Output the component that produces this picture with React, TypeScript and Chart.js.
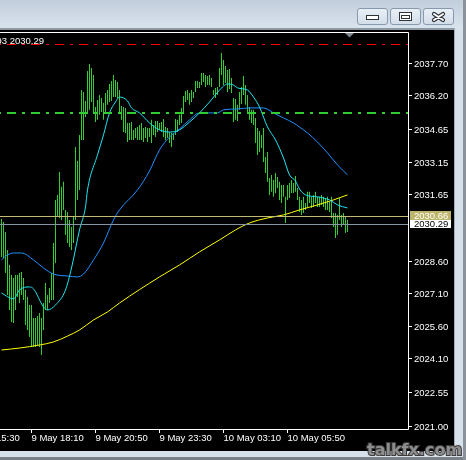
import React, { useEffect, useRef } from "react";
import { Chart, registerables } from "chart.js";

Chart.register(...registerables);

// XAUUSD M5 bars, oldest first: high / low per bar
const barHighs = [
  2030.51, 2030.38, 2029.92, 2029.09, 2028.4, 2027.94, 2027.8, 2027.94, 2027.94, 2028.03,
  2028.08, 2027.8, 2027.25, 2026.93, 2026.56, 2026.56, 2025.96, 2025.96, 2026.05, 2026.19,
  2025.96, 2026.65, 2027.57, 2027.02, 2027.34, 2028.03, 2029.41, 2031.39, 2031.62, 2032.67,
  2031.99, 2032.22, 2030.93, 2030.84, 2030.47, 2030.15, 2030.61, 2033.82, 2033.18, 2034.38,
  2036.44, 2036.35, 2035.94, 2037.32, 2037.64, 2037.46, 2037.13, 2035.66, 2035.98, 2036.21,
  2036.08, 2035.85, 2036.31, 2036.44, 2036.72, 2036.86, 2037.13, 2036.9, 2036.81, 2036.44,
  2035.71, 2035.66, 2035.62, 2034.93, 2034.93, 2034.97, 2034.61, 2034.7, 2034.74, 2034.84,
  2034.93, 2034.7, 2034.74, 2034.7, 2034.7, 2035.07, 2034.84, 2035.02, 2035.02, 2034.93,
  2034.97, 2035.11, 2034.74, 2034.7, 2034.51, 2034.47, 2034.47, 2035.11, 2035.07, 2035.3,
  2035.62, 2036.17, 2036.4, 2036.44, 2036.31, 2036.44, 2036.35, 2036.86, 2036.86, 2036.81,
  2037.23, 2037.23, 2037.13, 2037.09, 2037.13, 2037.0, 2036.44, 2036.54, 2036.58, 2037.46,
  2038.15, 2037.82, 2037.55, 2037.36, 2037.41, 2037.0, 2036.08, 2036.03, 2035.76, 2036.35,
  2036.58, 2037.09, 2036.67, 2036.21, 2035.66, 2035.53, 2035.53, 2035.16, 2034.7, 2034.56,
  2034.38, 2034.7, 2033.36, 2033.59, 2032.4, 2032.54, 2032.31, 2032.63, 2032.44, 2032.22,
  2032.08, 2032.08, 2031.53, 2032.08, 2032.17, 2032.31, 2032.17, 2032.49, 2031.94, 2031.53,
  2031.39, 2031.53, 2031.25, 2031.76, 2031.76, 2031.53, 2031.62, 2031.76, 2031.53, 2031.53,
  2031.62, 2031.53, 2031.48, 2031.53, 2031.3, 2031.53, 2030.79, 2030.79, 2030.7, 2031.48,
  2030.7, 2030.79, 2030.61, 2030.47,
];
const barLows = [
  2028.77, 2028.72, 2028.03, 2027.02, 2026.33, 2025.78, 2025.73, 2026.33, 2026.93, 2026.65,
  2027.02, 2026.79, 2025.64, 2025.41, 2025.09, 2024.63, 2024.63, 2024.63, 2024.72, 2024.63,
  2024.26, 2025.41, 2026.33, 2026.33, 2026.65, 2026.79, 2026.79, 2028.49, 2030.61, 2030.56,
  2030.47, 2030.93, 2029.78, 2029.41, 2029.23, 2029.09, 2029.41, 2030.47, 2031.39, 2031.85,
  2034.15, 2034.15, 2035.2, 2035.39, 2035.53, 2035.89, 2035.34, 2034.97, 2035.07, 2035.3,
  2035.43, 2035.07, 2035.39, 2035.76, 2035.89, 2035.94, 2036.12, 2036.12, 2036.08, 2035.43,
  2035.07, 2034.51, 2034.47, 2034.05, 2034.15, 2034.15, 2034.15, 2034.24, 2034.15, 2034.15,
  2034.15, 2034.05, 2034.24, 2034.05, 2034.28, 2034.01, 2034.38, 2034.28, 2034.51, 2034.61,
  2034.51, 2034.28, 2034.15, 2034.24, 2034.01, 2033.82, 2034.15, 2034.38, 2034.51, 2034.84,
  2034.93, 2035.43, 2035.89, 2035.98, 2035.76, 2035.89, 2036.08, 2036.35, 2036.54, 2036.54,
  2036.67, 2036.81, 2036.58, 2036.67, 2036.67, 2036.58, 2036.21, 2036.08, 2036.21, 2036.58,
  2037.13, 2036.67, 2036.77, 2036.35, 2036.49, 2036.31, 2034.97, 2035.07, 2035.02, 2035.53,
  2035.8, 2036.21, 2035.76, 2035.43, 2035.07, 2034.93, 2034.84, 2034.01, 2033.46, 2033.59,
  2033.78, 2033.13, 2032.63, 2032.22, 2031.62, 2031.76, 2031.53, 2031.71, 2031.94, 2031.39,
  2031.25, 2031.53, 2030.33, 2031.39, 2031.48, 2031.71, 2031.71, 2031.76, 2031.39, 2030.84,
  2030.7, 2030.79, 2030.93, 2031.07, 2031.25, 2031.02, 2031.07, 2031.25, 2031.07, 2031.07,
  2031.16, 2031.07, 2030.93, 2030.93, 2030.84, 2030.56, 2030.15, 2029.64, 2029.78, 2030.47,
  2030.15, 2030.24, 2029.87, 2029.92,
];

// Moving averages (bar index -> price)
const fastMaIdx = [0, 6, 9, 14, 16, 21, 23, 27, 32, 35, 39, 42, 43, 48, 51, 54, 57, 59, 63, 65, 69, 74, 79, 84, 89, 94, 99, 104, 109, 113, 116, 118, 123, 126, 129, 133, 137, 141, 144, 147, 149, 152, 158, 164, 168, 173];
const fastMaVal = [2027.11, 2026.84, 2027.25, 2027.39, 2027.3, 2026.47, 2026.33, 2026.56, 2027.25, 2028.26, 2030.01, 2031.07, 2031.85, 2033.46, 2034.38, 2035.39, 2035.89, 2036.12, 2035.94, 2035.62, 2035.39, 2034.93, 2034.61, 2034.51, 2034.61, 2034.97, 2035.39, 2035.89, 2036.44, 2036.72, 2036.67, 2036.54, 2036.44, 2036.12, 2035.66, 2034.74, 2034.15, 2033.32, 2032.54, 2032.26, 2031.89, 2031.62, 2031.53, 2031.39, 2031.16, 2031.02];
const midMaIdx = [0, 3, 6, 10, 16, 21, 26, 33, 38, 41, 46, 51, 56, 59, 68, 74, 79, 84, 89, 94, 99, 108, 111, 118, 124, 131, 136, 141, 146, 149, 153, 158, 163, 168, 173];
const midMaVal = [2028.63, 2028.86, 2028.95, 2028.95, 2028.63, 2028.26, 2027.98, 2027.89, 2027.85, 2027.98, 2028.63, 2029.41, 2030.47, 2030.93, 2031.85, 2032.72, 2033.69, 2034.28, 2034.65, 2035.07, 2035.39, 2035.39, 2035.53, 2035.57, 2035.62, 2035.62, 2035.39, 2035.16, 2034.93, 2034.74, 2034.47, 2034.05, 2033.55, 2033.0, 2032.54];
const slowMaIdx = [0, 9, 19, 26, 33, 39, 46, 53, 59, 79, 89, 99, 109, 117, 124, 133, 141, 149, 158, 166, 173];
const slowMaVal = [2024.49, 2024.58, 2024.72, 2024.86, 2025.13, 2025.41, 2025.87, 2026.24, 2026.65, 2027.85, 2028.4, 2029.0, 2029.55, 2030.01, 2030.33, 2030.56, 2030.7, 2030.93, 2031.16, 2031.39, 2031.62];

// Axis labels
const priceTicks = [2037.7, 2036.2, 2034.65, 2033.15, 2031.65, 2028.6, 2027.1, 2025.6, 2024.1, 2022.55, 2021.0];
const timeTickIdx = [-17, 15, 47, 79, 111, 143];
const timeTickLabels = ["9 May 15:30", "9 May 18:10", "9 May 20:50", "9 May 23:30", "10 May 03:10", "10 May 05:50"];

// Horizontal levels
const levelRed = 2038.56;
const levelGreen = 2035.4;
const levelKhaki = 2030.66;
const bidPrice = 2030.29;
const infoText = "XAUUSD,M5  2030.39 2030.47 2029.93 2030.29";

const FONT = "9.5px 'Liberation Sans', Arial, sans-serif";

function roundRect(ctx: CanvasRenderingContext2D, x: number, y: number, w: number, h: number, r: number) {
  ctx.beginPath();
  ctx.moveTo(x + r, y);
  ctx.lineTo(x + w - r, y);
  ctx.quadraticCurveTo(x + w, y, x + w, y + r);
  ctx.lineTo(x + w, y + h - r);
  ctx.quadraticCurveTo(x + w, y + h, x + w - r, y + h);
  ctx.lineTo(x + r, y + h);
  ctx.quadraticCurveTo(x, y + h, x, y + h - r);
  ctx.lineTo(x, y + r);
  ctx.quadraticCurveTo(x, y, x + r, y);
  ctx.closePath();
}

const terminalFrame = {
  id: "terminalFrame",
  beforeDraw(chart: any) {
    const { ctx, width, height } = chart;
    ctx.save();
    ctx.fillStyle = "#d7e1ec";
    ctx.fillRect(0, 0, width, height);
    const g = ctx.createLinearGradient(0, 0, 0, 28);
    g.addColorStop(0, "#c2cedb");
    g.addColorStop(1, "#d9e3ee");
    ctx.fillStyle = g;
    ctx.fillRect(0, 0, width, 28);
    ctx.fillStyle = "#8e98a2";
    ctx.fillRect(0, 28, 455, 2);
    ctx.fillStyle = "#000";
    ctx.fillRect(0, 30, 454, 421);
    ctx.fillStyle = "#a3aeb9";
    ctx.fillRect(454, 28, 1, 423);
    ctx.fillStyle = "#8b929a";
    ctx.fillRect(463, 0, 3, height);
    ctx.fillStyle = "#7a8189";
    ctx.fillRect(0, 457, 463, 3);

    // window buttons
    const btns = [357, 390, 423];
    btns.forEach((bx) => {
      const bg = ctx.createLinearGradient(0, 8, 0, 25);
      bg.addColorStop(0, "#eaf0f7");
      bg.addColorStop(1, "#d2dde9");
      roundRect(ctx, bx + 0.5, 8.5, 30, 16, 2.5);
      ctx.fillStyle = bg;
      ctx.fill();
      ctx.strokeStyle = "#8899ae";
      ctx.lineWidth = 1;
      ctx.stroke();
    });
    // minimize
    ctx.fillStyle = "#fff";
    ctx.fillRect(367, 16, 11, 3);
    ctx.strokeStyle = "#2e3338";
    ctx.strokeRect(366.5, 15.5, 12, 4);
    // restore
    ctx.fillStyle = "#fff";
    ctx.fillRect(400, 13, 11, 7);
    ctx.strokeRect(399.5, 12.5, 12, 8);
    ctx.strokeRect(401.5, 15.5, 8, 3);
    // close
    ctx.lineCap = "round";
    ctx.strokeStyle = "#2e3338";
    ctx.lineWidth = 4.2;
    ctx.beginPath();
    ctx.moveTo(434, 14);
    ctx.lineTo(443, 20);
    ctx.moveTo(443, 14);
    ctx.lineTo(434, 20);
    ctx.stroke();
    ctx.strokeStyle = "#fff";
    ctx.lineWidth = 2;
    ctx.stroke();
    ctx.restore();
  },
  afterDatasetsDraw(chart: any) {
    const { ctx } = chart;
    const xs = chart.scales.x;
    const ys = chart.scales.y;
    const ca = chart.chartArea;
    ctx.save();

    const hLine = (v: number, color: string, w: number, dash: number[]) => {
      const p = ys.getPixelForValue(v);
      const row = Math.round(p);
      const yy = w % 2 === 1 ? row + 0.5 : row;
      ctx.strokeStyle = color;
      ctx.lineWidth = w;
      ctx.setLineDash(dash);
      ctx.lineDashOffset = 17;
      ctx.beginPath();
      ctx.moveTo(ca.left, yy);
      ctx.lineTo(ca.right, yy);
      ctx.stroke();
      ctx.setLineDash([]);
      return row;
    };
    hLine(levelRed, "#ff0000", 1, [9, 6, 3, 6]);
    hLine(levelGreen, "#32cd32", 2, [9, 6, 3, 6]);
    const yKhaki = hLine(levelKhaki, "#c2bb73", 1, []);
    const yBid = hLine(bidPrice, "#8796a6", 1, []);

    // chart frame
    ctx.strokeStyle = "#fff";
    ctx.lineWidth = 1;
    ctx.beginPath();
    ctx.moveTo(0, ca.top + 0.5);
    ctx.lineTo(ca.right + 0.5, ca.top + 0.5);
    ctx.lineTo(ca.right + 0.5, ca.bottom + 0.5);
    ctx.lineTo(0, ca.bottom + 0.5);
    ctx.stroke();

    // price scale
    ctx.font = FONT;
    ctx.textBaseline = "middle";
    ctx.textAlign = "left";
    priceTicks.forEach((v) => {
      const yy = Math.round(ys.getPixelForValue(v));
      ctx.strokeStyle = "#fff";
      ctx.beginPath();
      ctx.moveTo(ca.right + 1, yy + 0.5);
      ctx.lineTo(ca.right + 4, yy + 0.5);
      ctx.stroke();
      ctx.fillStyle = "#fff";
      ctx.fillText(v.toFixed(2), ca.right + 6, yy + 1);
    });

    // level labels
    ctx.fillStyle = "#bdb56c";
    ctx.fillRect(ca.right + 2, yKhaki - 5, 41, 9);
    ctx.fillStyle = "#fff";
    ctx.fillText(levelKhaki.toFixed(2), ca.right + 6, yKhaki);
    ctx.fillStyle = "#fff";
    ctx.fillRect(ca.right + 2, yBid - 4, 41, 8);
    ctx.fillStyle = "#000";
    ctx.fillText(bidPrice.toFixed(2), ca.right + 6, yBid);

    // time scale
    ctx.textBaseline = "alphabetic";
    timeTickIdx.forEach((idx, k) => {
      const xx = Math.floor(xs.getPixelForValue(idx)) + 0.5;
      ctx.strokeStyle = "#fff";
      ctx.beginPath();
      ctx.moveTo(xx, ca.bottom + 1);
      ctx.lineTo(xx, ca.bottom + 4);
      ctx.stroke();
      ctx.fillStyle = "#fff";
      ctx.fillText(timeTickLabels[k], xx, ca.bottom + 12);
    });

    // shift marker
    ctx.fillStyle = "#7f8890";
    ctx.beginPath();
    ctx.moveTo(345, ca.top + 1);
    ctx.lineTo(354, ca.top + 1);
    ctx.lineTo(349.5, ca.top + 5.5);
    ctx.closePath();
    ctx.fill();

    // data window line
    ctx.fillStyle = "#fff";
    ctx.textAlign = "right";
    ctx.fillText(infoText, 44, 43.5);

    // watermark
    ctx.textAlign = "left";
    ctx.font = "bold 16px 'DejaVu Sans', sans-serif";
    ctx.lineWidth = 2;
    ctx.strokeStyle = "#3c3c3c";
    ctx.strokeText("talkfx.com", 367, 455);
    ctx.fillStyle = "#8e8e8e";
    ctx.fillText("talkfx.com", 367, 455);
    ctx.restore();
  },
};

export default function App() {
  const ref = useRef<HTMLCanvasElement | null>(null);

  useEffect(() => {
    document.body.style.margin = "0";
    const canvas = ref.current;
    if (!canvas) return;

    const line = (idx: number[], val: number[], color: string, order: number) => ({
      type: "line" as const,
      data: idx.map((i, k) => ({ x: i, y: val[k] })),
      borderColor: color,
      borderWidth: 1,
      pointRadius: 0,
      cubicInterpolationMode: "monotone" as const,
      order,
    });

    const chart = new Chart(canvas, {
      type: "bar",
      data: {
        datasets: [
          line(fastMaIdx, fastMaVal, "#1ee6f2", 1),
          line(midMaIdx, midMaVal, "#1e90ff", 2),
          line(slowMaIdx, slowMaVal, "#ffff00", 3),
          {
            type: "bar",
            data: barHighs.map((h, i) => ({ x: i, y: [barLows[i], h] })),
            backgroundColor: "#32cd32",
            borderWidth: 0,
            barThickness: 1,
            inflateAmount: 0,
            grouped: false,
            order: 4,
          } as any,
        ],
      },
      options: {
        responsive: false,
        animation: false,
        devicePixelRatio: 1,
        events: [],
        layout: { padding: { left: 0, top: 32, right: 58, bottom: 31 } },
        plugins: { legend: { display: false }, tooltip: { enabled: false } },
        scales: {
          x: { type: "linear", min: -0.75, max: 203.25, offset: false, display: false },
          y: { type: "linear", min: 2020.858, max: 2039.11, display: false },
        },
      },
      plugins: [terminalFrame],
    });
    return () => chart.destroy();
  }, []);

  return (
    <canvas
      ref={ref}
      width={466}
      height={460}
      style={{ position: "fixed", left: 0, top: 0, width: 466, height: 460 }}
    />
  );
}
